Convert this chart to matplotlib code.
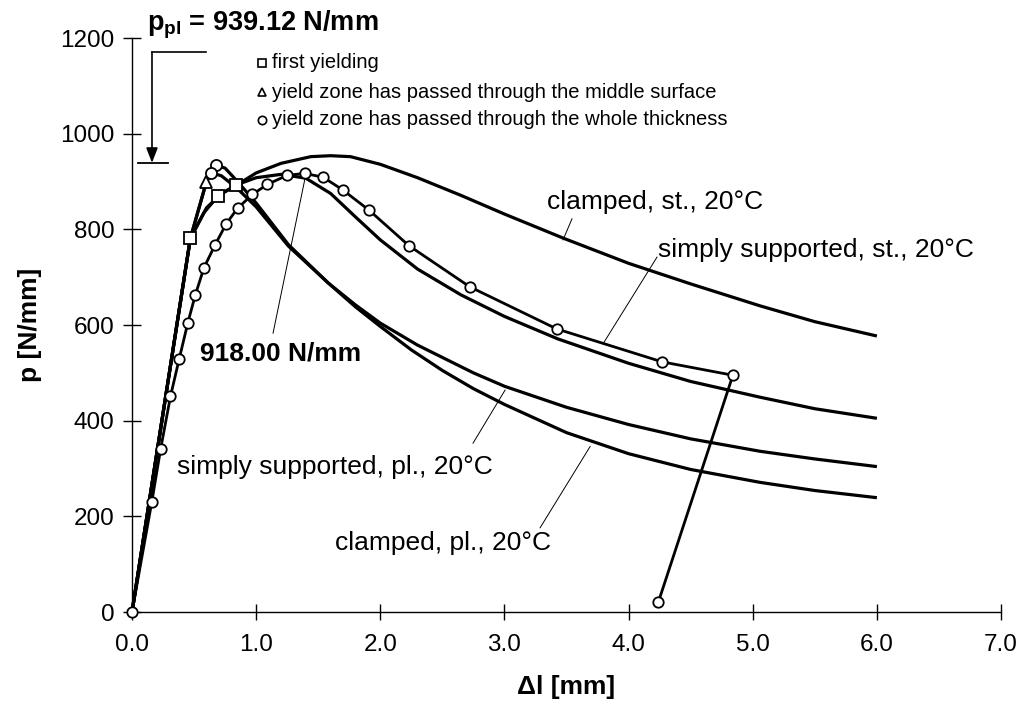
import matplotlib
matplotlib.use("Agg")
import matplotlib.pyplot as plt

plt.rcParams["font.family"] = ["Liberation Sans", "DejaVu Sans"]
plt.rcParams["mathtext.fontset"] = "custom"
plt.rcParams["mathtext.rm"] = "Liberation Sans"
plt.rcParams["mathtext.bf"] = "Liberation Sans:bold"

# curves: elongation dl [mm], load p [N/mm]
clamped_st_x = [0.0, 0.47, 0.6, 0.72, 0.84, 1.0, 1.2, 1.44, 1.6, 1.76, 2.0, 2.3, 2.65, 3.0, 3.48, 4.0, 4.5, 5.06, 5.5, 6.0]
clamped_st_p = [0, 781, 845, 875, 892, 918, 938, 952, 954, 952, 936, 908, 871, 832, 781, 729, 686, 640, 607, 577]

simply_st_x = [0.0, 0.47, 0.58, 0.69, 0.84, 1.0, 1.2, 1.4, 1.6, 1.8, 2.0, 2.3, 2.65, 3.0, 3.43, 4.0, 4.5, 5.06, 5.5, 6.0]
simply_st_p = [0, 781, 835, 869, 893, 908, 915, 907, 875, 826, 778, 717, 663, 618, 571, 520, 482, 449, 425, 405]

clamped_pl_x = [0.0, 0.47, 0.6, 0.68, 0.75, 0.85, 1.0, 1.26, 1.58, 1.8, 2.0, 2.25, 2.5, 2.75, 3.0, 3.5, 4.0, 4.5, 5.06, 5.5, 6.0]
clamped_pl_p = [0, 781, 900, 934, 928, 900, 855, 768, 688, 638, 597, 548, 505, 467, 434, 375, 331, 298, 271, 254, 239]

simply_pl_x = [0.0, 0.47, 0.6, 0.64, 0.72, 0.85, 1.0, 1.26, 1.58, 1.8, 2.0, 2.3, 2.75, 3.0, 3.5, 4.0, 4.5, 5.06, 5.5, 6.0]
simply_pl_p = [0, 781, 900, 918, 912, 885, 847, 765, 688, 642, 604, 558, 500, 472, 428, 392, 362, 336, 320, 304]

# curve with circle markers, incl. unloading branch
test_x = [0.0, 0.16, 0.23, 0.31, 0.38, 0.45, 0.51, 0.58, 0.67, 0.76, 0.85, 0.97, 1.09, 1.25, 1.39,
          1.54, 1.70, 1.91, 2.23, 2.72, 3.42, 4.27, 4.84, 4.24]
test_p = [0, 231, 340, 451, 529, 605, 663, 720, 768, 812, 844, 873, 894, 913, 917,
          909, 882, 840, 766, 680, 592, 523, 495, 21]

# event markers
first_yield_x = [0.47, 0.69, 0.84]
first_yield_p = [781, 869, 892]
middle_x = [0.6]
middle_p = [900]
whole_x = [0.68, 0.64]
whole_p = [934, 918]

p_pl = 939.12

fig = plt.figure(figsize=(10.17, 7.19), dpi=100)
ax = fig.add_axes([0.1298, 0.1488, 0.8545, 0.7983])

lw = 2.3
for xs, ps in [(clamped_st_x, clamped_st_p), (simply_st_x, simply_st_p),
               (clamped_pl_x, clamped_pl_p), (simply_pl_x, simply_pl_p)]:
    ax.plot(xs, ps, color="black", lw=lw, solid_capstyle="butt", clip_on=False)

ax.plot(test_x, test_p, color="black", lw=2.0, marker="o", ms=7.5,
        mfc="white", mec="black", mew=1.3, clip_on=False, zorder=3)

ax.plot(first_yield_x, first_yield_p, ls="none", marker="s", ms=9,
        mfc="white", mec="black", mew=1.3, zorder=4)
ax.plot(middle_x, middle_p, ls="none", marker="^", ms=8,
        mfc="white", mec="black", mew=1.3, zorder=4)
ax.plot(whole_x, whole_p, ls="none", marker="o", ms=8,
        mfc="white", mec="black", mew=1.3, zorder=4)

ax.set_xlim(0, 7)
ax.set_ylim(0, 1200)
ax.set_xticks([0, 1, 2, 3, 4, 5, 6, 7])
ax.set_xticklabels(["0.0", "1.0", "2.0", "3.0", "4.0", "5.0", "6.0", "7.0"])
ax.set_yticks([0, 200, 400, 600, 800, 1000, 1200])
for s in ["top", "right"]:
    ax.spines[s].set_visible(False)
for s in ["left", "bottom"]:
    ax.spines[s].set_linewidth(1.0)
ax.tick_params(axis="y", direction="inout", length=13, width=1.0, labelsize=17.5, pad=6)
ax.tick_params(axis="x", direction="inout", length=11, width=1.0, labelsize=17.5, pad=10)

ax.set_xlabel("Δl [mm]", fontsize=19, fontweight="bold", labelpad=14)
ax.set_ylabel("p [N/mm]", fontsize=19, fontweight="bold", labelpad=13)

# p_pl marker on the y axis
ax.text(0.12, 1228, r"$\mathbf{p}_{\mathbf{pl}}$ = %.2f N/mm" % p_pl, fontsize=19.5,
        fontweight="bold", ha="left", va="center", clip_on=False)
ax.plot([0.161, 0.596], [1171, 1171], color="black", lw=1.2, clip_on=False)
ax.annotate("", xy=(0.161, p_pl), xytext=(0.161, 1171),
            arrowprops=dict(arrowstyle="-|>,head_length=0.9,head_width=0.35",
                            color="black", lw=1.2, shrinkA=0, shrinkB=0))
ax.plot([0.048, 0.29], [p_pl, p_pl], color="black", lw=1.3, clip_on=False)

# legend of markers
ax.plot([1.05], [1148], ls="none", marker="s", ms=6, mfc="white", mec="black", mew=1.2, clip_on=False)
ax.plot([1.05], [1087], ls="none", marker="^", ms=6, mfc="white", mec="black", mew=1.2, clip_on=False)
ax.plot([1.05], [1029], ls="none", marker="o", ms=6, mfc="white", mec="black", mew=1.2, clip_on=False)
ax.text(1.125, 1148, "first yielding", fontsize=14.5, va="center")
ax.text(1.125, 1087, "yield zone has passed through the middle surface", fontsize=14.5, va="center")
ax.text(1.125, 1029, "yield zone has passed through the whole thickness", fontsize=14.5, va="center")

# curve labels with leader lines
ax.text(0.548, 541, "918.00 N/mm", fontsize=19, fontweight="bold", va="center")
ax.plot([1.136, 1.394], [583, 907], color="black", lw=0.7)

ax.text(3.343, 857, "clamped, st., 20°C", fontsize=19, va="center")
ax.plot([3.544, 3.472], [822, 778], color="black", lw=0.7)

ax.text(4.237, 757, "simply supported, st., 20°C", fontsize=19, va="center")
ax.plot([4.229, 3.802], [742, 564], color="black", lw=0.7)

ax.text(0.362, 303, "simply supported, pl., 20°C", fontsize=19, va="center")
ax.plot([2.747, 3.005], [353, 464], color="black", lw=0.7)

ax.text(1.635, 144, "clamped, pl., 20°C", fontsize=19, va="center")
ax.plot([3.287, 3.69], [176, 346], color="black", lw=0.7)

fig.savefig("out.png", dpi=100)
